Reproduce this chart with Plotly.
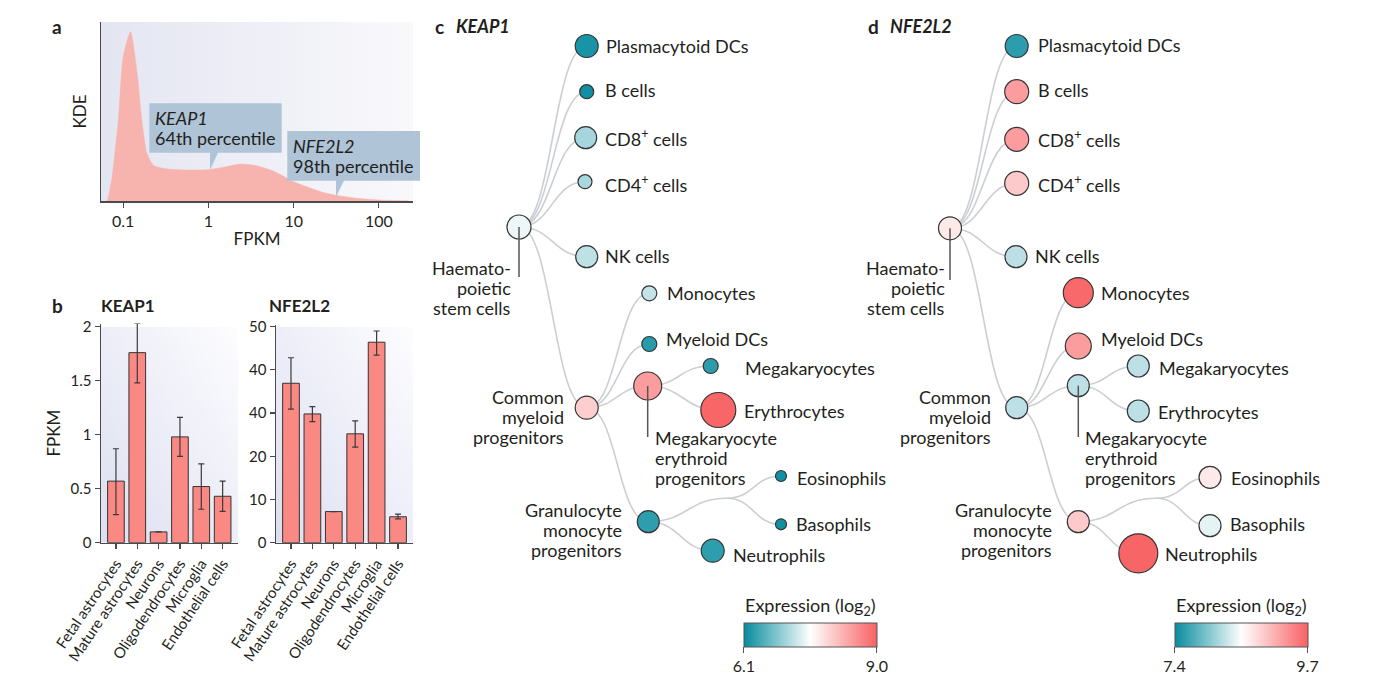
import base64
import plotly.graph_objects as go

W, H = 1377, 691
FONT = "Lato"
INK = "#231f20"
AXIS = "#4a4a4a"

# ---------------- data ----------------
# panel a: kernel density of gene expression (x in log10 FPKM)
kde_log10_fpkm = [-1.19, -1.17, -1.13, -1.056, -1.0, -0.914, -0.83, -0.795, -0.757, -0.72,
                  -0.645, -0.496, -0.27, 0.0, 0.188, 0.368, 0.548, 0.748, 1.0, 1.148,
                  1.348, 1.508, 1.748, 2.0, 2.348]
kde_density = [0.0, 0.03, 0.14, 0.48, 0.85, 1.0, 0.73, 0.54, 0.38, 0.28,
               0.21, 0.19, 0.183, 0.185, 0.2, 0.218, 0.21, 0.18, 0.114, 0.085,
               0.05, 0.033, 0.016, 0.006, 0.001]
kde_tickvals = [-1, 0, 1, 2]
kde_ticktext = ["0.1", "1", "10", "100"]

# panel b: brain cell types
cell_types = ["Fetal astrocytes", "Mature astrocytes", "Neurons",
              "Oligodendrocytes", "Microglia", "Endothelial cells"]
keap1_fpkm = [0.57, 1.76, 0.10, 0.98, 0.52, 0.43]
keap1_err_plus = [0.30, 0.27, None, 0.18, 0.21, 0.14]
keap1_err_minus = [0.31, 0.28, None, 0.18, 0.21, 0.14]
keap1_tickvals = [0, 0.5, 1, 1.5, 2]
keap1_ticktext = ["0", "0.5", "1", "1.5", "2"]
nfe2l2_fpkm = [36.9, 29.8, 7.2, 25.2, 46.4, 6.0]
nfe2l2_err_plus = [5.9, 1.7, None, 3.0, 2.6, 0.6]
nfe2l2_err_minus = [6.0, 1.8, None, 3.1, 3.0, 0.5]
nfe2l2_tickvals = [0, 10, 20, 30, 40, 50]
nfe2l2_ticktext = ["0", "10", "20", "40", "40", "50"]

# panels c, d: haematopoietic tree
tree_nodes = ["HSC", "Plasmacytoid DCs", "B cells", "CD8+ cells", "CD4+ cells", "NK cells",
              "CMP", "Monocytes", "Myeloid DCs", "MEP", "Megakaryocytes", "Erythrocytes",
              "GMP", "Eosinophils", "Basophils", "Neutrophils"]
tree_edges = [("HSC", "Plasmacytoid DCs"), ("HSC", "B cells"), ("HSC", "CD8+ cells"),
              ("HSC", "CD4+ cells"), ("HSC", "NK cells"), ("HSC", "CMP"),
              ("CMP", "Monocytes"), ("CMP", "Myeloid DCs"), ("CMP", "MEP"), ("CMP", "GMP"),
              ("MEP", "Megakaryocytes"), ("MEP", "Erythrocytes"),
              ("GMP", "Granulocytes"), ("Granulocytes", "Eosinophils"),
              ("Granulocytes", "Basophils"), ("GMP", "Neutrophils")]
keap1_log2 = [7.45, 6.2, 6.15, 7.03, 7.05, 7.17, 8.0, 7.2, 6.29, 8.45, 6.32, 8.95,
              6.33, 6.15, 6.15, 6.33]
nfe2l2_log2 = [8.71, 7.57, 9.26, 9.26, 8.94, 8.24, 8.24, 9.64, 9.26, 8.24, 8.24, 8.24,
               8.94, 8.71, 8.43, 9.67]
keap1_range = [6.1, 9.0]
nfe2l2_range = [7.4, 9.7]
node_text = {"HSC": "Haemato-<br>poietic<br>stem cells",
             "CMP": "Common<br>myeloid<br>progenitors",
             "MEP": "Megakaryocyte<br>erythroid<br>progenitors",
             "GMP": "Granulocyte<br>monocyte<br>progenitors",
             "CD8+ cells": "CD8<sup>+</sup> cells",
             "CD4+ cells": "CD4<sup>+</sup> cells"}

# ---------------- layout / style (pixel positions) ----------------
diam_c = [24, 23, 14, 22, 14, 22, 23, 15, 15, 28, 15, 35, 22, 11, 11, 23]
diam_d = [23, 23, 24, 24, 24, 22, 22, 30, 26, 22, 22, 22, 22, 22, 22, 39]
POS_C = {"HSC": (519, 227), "Plasmacytoid DCs": (586.7, 46), "B cells": (586.7, 91.7),
         "CD8+ cells": (585.7, 137.7), "CD4+ cells": (585, 181.7), "NK cells": (586.7, 256.7),
         "CMP": (586.7, 407.7), "Monocytes": (649.3, 293.3), "Myeloid DCs": (649.3, 344),
         "MEP": (647.7, 386), "Megakaryocytes": (710.7, 366), "Erythrocytes": (718.3, 410),
         "GMP": (648.3, 521.7), "Granulocytes": (726.7, 498.3), "Eosinophils": (781, 476),
         "Basophils": (781, 524.3), "Neutrophils": (712.7, 550.7)}
POS_D = {"HSC": (950, 228.3), "Plasmacytoid DCs": (1016.7, 46), "B cells": (1016.7, 91.7),
         "CD8+ cells": (1016.7, 139.3), "CD4+ cells": (1016.7, 183.3), "NK cells": (1016, 256.7),
         "CMP": (1016.7, 407.7), "Monocytes": (1078.3, 292.7), "Myeloid DCs": (1078.3, 346),
         "MEP": (1078.3, 385.7), "Megakaryocytes": (1138.3, 366), "Erythrocytes": (1138.3, 411),
         "GMP": (1078.3, 521.7), "Granulocytes": (1156, 498.3), "Eosinophils": (1210, 477.3),
         "Basophils": (1210, 525.7), "Neutrophils": (1138.3, 553.3)}
# label anchor: (x, y of first line, xanchor)
LAB_C = {"HSC": (512.7, 268, "right"), "Plasmacytoid DCs": (604, 46, "left"),
         "B cells": (603, 90, "left"), "CD8+ cells": (603, 138, "left"),
         "CD4+ cells": (603, 184, "left"), "NK cells": (603, 256, "left"),
         "CMP": (566, 397, "right"), "Monocytes": (665, 293, "left"),
         "Myeloid DCs": (664, 339, "left"), "MEP": (653.3, 438, "left"),
         "Megakaryocytes": (742.7, 368, "left"), "Erythrocytes": (741.7, 411, "left"),
         "GMP": (624.3, 510, "right"), "Eosinophils": (795, 478, "left"),
         "Basophils": (794, 524, "left"), "Neutrophils": (731, 555, "left")}
LAB_D = {"HSC": (947.3, 268.3, "right"), "Plasmacytoid DCs": (1036, 45, "left"),
         "B cells": (1036, 90, "left"), "CD8+ cells": (1036, 139, "left"),
         "CD4+ cells": (1036, 184, "left"), "NK cells": (1033.3, 256, "left"),
         "CMP": (993.3, 397.3, "right"), "Monocytes": (1099.3, 293, "left"),
         "Myeloid DCs": (1099.3, 339.3, "left"), "MEP": (1082.7, 438.3, "left"),
         "Megakaryocytes": (1156.7, 368.3, "left"), "Erythrocytes": (1156, 411.7, "left"),
         "GMP": (1054.3, 510, "right"), "Eosinophils": (1229.3, 478, "left"),
         "Basophils": (1228.3, 524.3, "left"), "Neutrophils": (1163.3, 554, "left")}
LEADERS_C = [("HSC", 277), ("MEP", 437)]
LEADERS_D = [("HSC", 280), ("MEP", 437)]
COLORSCALE = [[0, "#078c9f"], [0.5, "#ffffff"], [1, "#f86163"]]


def fx(p):
    return p / W


def fy(p):
    return 1 - p / H


def grad_img(c0, c1, x1, y1, x2, y2):
    svg = ("<svg xmlns='http://www.w3.org/2000/svg' width='100' height='100' "
           "preserveAspectRatio='none'><defs><linearGradient id='g' "
           f"x1='{x1}' y1='{y1}' x2='{x2}' y2='{y2}'><stop offset='0' stop-color='{c0}'/>"
           f"<stop offset='1' stop-color='{c1}'/></linearGradient></defs>"
           "<rect width='100' height='100' fill='url(#g)'/></svg>")
    return "data:image/svg+xml;base64," + base64.b64encode(svg.encode()).decode()


fig = go.Figure()

# ---- panel a ----
fig.add_trace(go.Scatter(x=kde_log10_fpkm, y=kde_density, mode="lines",
                         line=dict(color="#f7b3ae", width=0.5, shape="spline", smoothing=0.6),
                         fill="tozeroy", fillcolor="#f7b3ae", xaxis="x", yaxis="y",
                         hoverinfo="skip", showlegend=False))

# ---- panel b ----
bar_marker = dict(color="#fa8984", line=dict(color="#333333", width=1))
fig.add_trace(go.Bar(x=cell_types, y=keap1_fpkm, width=0.78, marker=bar_marker,
                     error_y=dict(type="data", array=keap1_err_plus, arrayminus=keap1_err_minus,
                                  color="#3a3a3a", thickness=1.2, width=3),
                     xaxis="x2", yaxis="y2", showlegend=False))
fig.add_trace(go.Bar(x=cell_types, y=nfe2l2_fpkm, width=0.78, marker=bar_marker,
                     error_y=dict(type="data", array=nfe2l2_err_plus, arrayminus=nfe2l2_err_minus,
                                  color="#3a3a3a", thickness=1.2, width=3),
                     xaxis="x3", yaxis="y3", showlegend=False))

# ---- panels c, d ----
shapes = []
annotations = []


def add_tree(pos, labels, leaders, values, diam, crange, cb_center):
    for p, c in tree_edges:
        x0, y0 = pos[p]
        x1, y1 = pos[c]
        xm = (x0 + x1) / 2
        shapes.append(dict(type="path", xref="x4", yref="y4", layer="below",
                           path=f"M {x0},{y0} C {xm},{y0} {xm},{y1} {x1},{y1}",
                           line=dict(color="#cbcfd4", width=1.6)))
    for n, yb in leaders:
        x0, y0 = pos[n]
        shapes.append(dict(type="line", xref="x4", yref="y4", layer="above",
                           x0=x0, y0=y0, x1=x0, y1=yb, line=dict(color="#555555", width=1.5)))
    fig.add_trace(go.Scatter(
        x=[pos[n][0] for n in tree_nodes], y=[pos[n][1] for n in tree_nodes],
        mode="markers", xaxis="x4", yaxis="y4", showlegend=False, hoverinfo="skip",
        marker=dict(size=diam, color=values, colorscale=COLORSCALE, cmin=crange[0], cmax=crange[1],
                    line=dict(color="#353535", width=1.2), opacity=1,
                    showscale=True,
                    colorbar=dict(orientation="h", x=fx(cb_center), xanchor="center",
                                  y=fy(622.5), yanchor="top", len=133, lenmode="pixels",
                                  thickness=24, thicknessmode="pixels", xpad=0, ypad=0,
                                  tickvals=crange, ticktext=[f"{v:.1f}" for v in crange],
                                  ticks="outside", ticklen=6, tickcolor="#555", tickwidth=1,
                                  outlinewidth=1, outlinecolor="#555",
                                  tickfont=dict(family=FONT, size=16, color=INK)))))
    for n in tree_nodes:
        x, y, xa = labels[n]
        text = node_text.get(n, n)
        for i, line in enumerate(text.split("<br>")):
            annotations.append(dict(x=x, y=y + i * 20, xref="x4", yref="y4", text=line,
                                    showarrow=False, xanchor=xa, yanchor="middle",
                                    font=dict(family=FONT, size=18, color=INK)))
    annotations.append(dict(x=cb_center, y=606, xref="x4", yref="y4",
                            text="Expression (log<sub>2</sub>)", showarrow=False,
                            xanchor="center", yanchor="middle",
                            font=dict(family=FONT, size=18, color=INK)))


add_tree(POS_C, LAB_C, LEADERS_C, keap1_log2, diam_c, keap1_range, 810.3)
add_tree(POS_D, LAB_D, LEADERS_D, nfe2l2_log2, diam_d, nfe2l2_range, 1241)

# ---- callouts in panel a (pixel space) ----
for (bx0, by0, bx1, by1, tip, txt1, txt2) in [
        (149.3, 103.3, 281.7, 152.7, (210, 170), "KEAP1", "64th percentile"),
        (287.3, 131, 420, 180.7, (336, 196.7), "NFE2L2", "98th percentile")]:
    tx, ty = tip
    shapes.append(dict(type="path", xref="x4", yref="y4", layer="above", fillcolor="#afc4d7",
                       line=dict(width=0),
                       path=(f"M {bx0},{by0} L {bx1},{by0} L {bx1},{by1} L {tx + 8},{by1} "
                             f"L {tx},{ty} L {tx},{by1} L {bx0},{by1} Z")))
    annotations.append(dict(x=bx0 + 4, y=by0 + 15, xref="x4", yref="y4", text=f"<i>{txt1}</i>",
                            showarrow=False, xanchor="left", yanchor="middle",
                            font=dict(family=FONT, size=18, color=INK)))
    annotations.append(dict(x=bx0 + 4, y=by0 + 35, xref="x4", yref="y4", text=txt2,
                            showarrow=False, xanchor="left", yanchor="middle",
                            font=dict(family=FONT, size=18, color=INK)))

# ---- panel letters and titles ----
for (x, y, t, sz) in [(50, 26, "<b>a</b>", 19), (50, 305, "<b>b</b>", 19),
                      (433, 26, "<b>c</b>", 19), (866, 26, "<b>d</b>", 19),
                      (454, 26, "<b><i>KEAP1</i></b>", 18), (888, 26, "<b><i>NFE2L2</i></b>", 18),
                      (99, 305, "<b>KEAP1</b>", 17), (267, 305, "<b>NFE2L2</b>", 17)]:
    annotations.append(dict(x=x, y=y, xref="x4", yref="y4", text=t, showarrow=False,
                            xanchor="left", yanchor="middle",
                            font=dict(family=FONT, size=sz, color=INK)))

# ---- background gradients ----
images = [
    dict(source=grad_img("#e3e5f1", "#f9f9fc", 0, 0, 1, 0), xref="paper", yref="paper",
         x=fx(101), y=fy(22), sizex=fx(413) - fx(101), sizey=fy(22) - fy(201),
         sizing="stretch", layer="below", xanchor="left", yanchor="top"),
    dict(source=grad_img("#dcdff0", "#fdfdff", 0, 1, 1, 0), xref="paper", yref="paper",
         x=fx(101), y=fy(326.7), sizex=fx(238) - fx(101), sizey=fy(326.7) - fy(542.7),
         sizing="stretch", layer="below", xanchor="left", yanchor="top"),
    dict(source=grad_img("#dcdff0", "#fdfdff", 0, 1, 1, 0), xref="paper", yref="paper",
         x=fx(276), y=fy(326.7), sizex=fx(413) - fx(276), sizey=fy(326.7) - fy(542.7),
         sizing="stretch", layer="below", xanchor="left", yanchor="top"),
]

axis_common = dict(showline=True, linecolor=AXIS, linewidth=1.5, showgrid=False, zeroline=False,
                   ticks="outside", ticklen=5, tickcolor=AXIS, tickwidth=1.2,
                   tickfont=dict(family=FONT, size=15, color=INK))

fig.update_layout(
    width=W, height=H, margin=dict(l=0, r=0, t=0, b=0, autoexpand=False),
    paper_bgcolor="white", plot_bgcolor="rgba(0,0,0,0)",
    font=dict(family=FONT, color=INK), bargap=0.2,
    xaxis=dict(domain=[fx(101), fx(413)], range=[-1.26, 2.40], tickvals=kde_tickvals,
               ticktext=kde_ticktext, anchor="y", automargin=False,
               title=dict(text="FPKM", font=dict(family=FONT, size=17, color=INK), standoff=4),
               **{**axis_common, "tickfont": dict(family=FONT, size=16, color=INK)}),
    yaxis=dict(domain=[fy(201), fy(22)], range=[0, 1.057], anchor="x", showticklabels=False,
               automargin=False,
               title=dict(text="KDE", font=dict(family=FONT, size=17, color=INK), standoff=8),
               **{k: v for k, v in axis_common.items() if k not in ("ticks",)}, ticks=""),
    xaxis2=dict(domain=[fx(101), fx(238)], range=[-0.7, 5.72], anchor="y2", tickangle=-56,
                automargin=False,
                **{**axis_common, "tickfont": dict(family=FONT, size=15, color=INK)}),
    yaxis2=dict(domain=[fy(542.7), fy(323.5)], range=[0, 2.03], anchor="x2",
                tickvals=keap1_tickvals, ticktext=keap1_ticktext, automargin=False,
                title=dict(text="FPKM", font=dict(family=FONT, size=17, color=INK), standoff=5),
                **axis_common),
    xaxis3=dict(domain=[fx(276), fx(413)], range=[-0.7, 5.70], anchor="y3", tickangle=-56,
                automargin=False,
                **{**axis_common, "tickfont": dict(family=FONT, size=15, color=INK)}),
    yaxis3=dict(domain=[fy(542.7), fy(324.5)], range=[0, 50.5], anchor="x3", automargin=False,
                tickvals=nfe2l2_tickvals, ticktext=nfe2l2_ticktext, **axis_common),
    xaxis4=dict(domain=[0, 1], range=[0, W], visible=False, anchor="y4", fixedrange=True),
    yaxis4=dict(domain=[0, 1], range=[H, 0], visible=False, anchor="x4", fixedrange=True),
    shapes=shapes, annotations=annotations, images=images,
)

fig.write_html("out.html", config={"displayModeBar": False, "staticPlot": True},
               post_script="document.body.style.margin='0';document.body.style.overflow='hidden';")
